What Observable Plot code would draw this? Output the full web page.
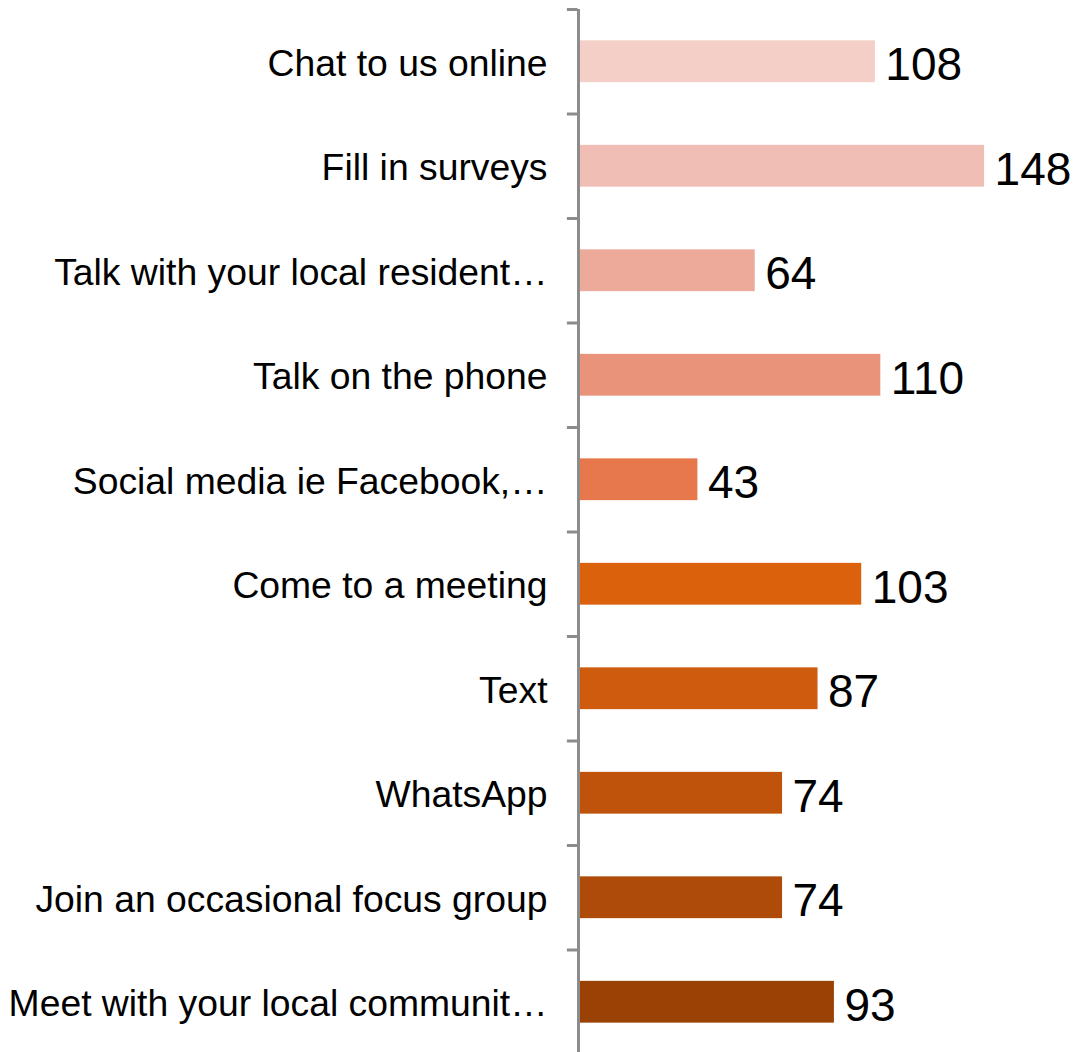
<!DOCTYPE html>
<html>
<head>
<meta charset="utf-8">
<script src="https://cdn.jsdelivr.net/npm/d3@7"></script>
<script src="https://cdn.jsdelivr.net/npm/@observablehq/plot@0.6"></script>
<style>
  html, body { margin: 0; padding: 0; background: #fff; }
  #chart svg { display: block; }
</style>
</head>
<body>
<div id="chart"></div>
<script>
const categories = [
  "Chat to us online",
  "Fill in surveys",
  "Talk with your local resident…",
  "Talk on the phone",
  "Social media ie Facebook,…",
  "Come to a meeting",
  "Text",
  "WhatsApp",
  "Join an occasional focus group",
  "Meet with your local communit…"
];
const values = [108, 148, 64, 110, 43, 103, 87, 74, 74, 93];
const colors = [
  "#F4CFC7", "#F0BEB4", "#EDAA9A", "#E8937A", "#E6784C",
  "#DB610D", "#CF5B0F", "#C0530B", "#AE4B09", "#9A4206"
];

const data = categories.map((c, i) => ({label: c, value: values[i]}));
const axisColor = "#8C8C8C";
const font = "'Liberation Sans', Arial, Helvetica, sans-serif";

const chart = Plot.plot({
  width: 1081,
  height: 1052,
  marginLeft: 580,
  marginRight: 0,
  marginTop: 9,
  marginBottom: 0,
  style: {fontFamily: font, background: "#fff"},
  x: {domain: [0, 183.5], axis: null},
  y: {domain: categories, range: [9, 1054], paddingInner: 0.6, paddingOuter: 0.3, align: 0.5, round: false, axis: null},
  color: {type: "ordinal", domain: categories, range: colors},
  marks: [
    Plot.ruleX([0], {stroke: axisColor, strokeWidth: 3, dx: -2}),
    Plot.ruleY(categories, {y: d => d, x1: -4.8, x2: -0.9, dy: -52.25, stroke: axisColor, strokeWidth: 3}),
    Plot.barX(data, {x: "value", y: "label", fill: "label"}),
    Plot.text(data, {x: 0, y: "label", text: "label", textAnchor: "end", dx: -33, dy: 2, fontSize: 37.3, fill: "#000"}),
    Plot.text(data, {x: "value", y: "label", text: d => String(d.value), textAnchor: "start", dx: 10, dy: 4, fontSize: 46, fill: "#000"})
  ]
});
document.getElementById("chart").appendChild(chart);
</script>
</body>
</html>
